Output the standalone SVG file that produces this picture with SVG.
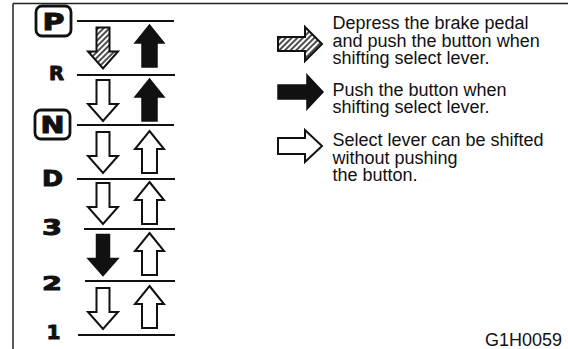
<svg xmlns="http://www.w3.org/2000/svg" xmlns:xlink="http://www.w3.org/1999/xlink" width="568" height="349" viewBox="0 0 568 349">
  <style>
    .frame { stroke: #222; stroke-width: 1.5; fill: none; }
    .sep { stroke: #111; stroke-width: 2; fill: none; }
    .lbl { font-family: "DejaVu Sans", "Liberation Sans", sans-serif; font-weight: bold; fill: #111; stroke: #111; stroke-width: 1; stroke-linejoin: round; text-anchor: middle; }
    .txt { font-family: "Liberation Sans", Arial, sans-serif; font-size: 18px; fill: #111; }
    .white { fill: #fff; stroke: #111; stroke-width: 2; stroke-linejoin: miter; }
    .black { fill: #111; stroke: #111; stroke-width: 1.5; }
    .hatch { fill: url(#hatch); stroke: #111; stroke-width: 2; }
    .box { fill: #fff; stroke: #111; stroke-width: 2.8; }
  </style>
  <defs>
    <pattern id="hatch" patternUnits="userSpaceOnUse" width="4" height="4" patternTransform="rotate(45)">
      <rect width="4" height="4" fill="#fff"/>
      <line x1="1" y1="0" x2="1" y2="4" stroke="#111" stroke-width="1.5"/>
    </pattern>
    <path id="down" d="M-6.5,0 H6.5 V24 H15 L0,41 L-15,24 H-6.5 Z"/>
    <path id="up" d="M0,0 L14.5,18 H7.5 V42 H-7.5 V18 H-14.5 Z"/>
  </defs>

  <g id="frame">
    <line class="frame" x1="13" y1="3.5" x2="568" y2="3.5"/>
    <line class="frame" x1="13" y1="3.5" x2="13" y2="349"/>
  </g>

  <g id="gear-P">
    <rect class="box" x="36" y="6" width="35" height="30" rx="6"/>
    <text class="lbl" x="53.5" y="30" font-size="23" textLength="22" lengthAdjust="spacingAndGlyphs">P</text>
  </g>
  <g id="gear-R">
    <text class="lbl" x="56.5" y="80" font-size="20" textLength="15" lengthAdjust="spacingAndGlyphs">R</text>
  </g>
  <g id="gear-N">
    <rect class="box" x="35" y="110" width="35" height="29" rx="6"/>
    <text class="lbl" x="52.5" y="133" font-size="23" textLength="24" lengthAdjust="spacingAndGlyphs">N</text>
  </g>
  <g id="gear-D">
    <text class="lbl" x="52.5" y="186" font-size="21" textLength="21" lengthAdjust="spacingAndGlyphs">D</text>
  </g>
  <g id="gear-3">
    <text class="lbl" x="52" y="235" font-size="21" textLength="20" lengthAdjust="spacingAndGlyphs">3</text>
  </g>
  <g id="gear-2">
    <text class="lbl" x="52" y="290" font-size="20" textLength="20" lengthAdjust="spacingAndGlyphs">2</text>
  </g>
  <g id="gear-1">
    <text class="lbl" x="53.5" y="339" font-size="20" textLength="14" lengthAdjust="spacingAndGlyphs">1</text>
  </g>

  <g id="separators">
    <line class="sep" x1="77" y1="21" x2="174" y2="21"/>
    <line class="sep" x1="77" y1="75" x2="175" y2="75"/>
    <line class="sep" x1="77" y1="125" x2="174" y2="125"/>
    <line class="sep" x1="77" y1="179" x2="175" y2="179"/>
    <line class="sep" x1="84" y1="229" x2="175" y2="229"/>
    <line class="sep" x1="85" y1="281" x2="175" y2="281"/>
    <line class="sep" x1="78" y1="335" x2="175" y2="335"/>
  </g>

  <g id="connectors">
    <use xlink:href="#down" class="hatch" transform="translate(103,27.5)"/>
    <use xlink:href="#up" class="black" transform="translate(149.5,25)"/>
    <use xlink:href="#down" class="white" transform="translate(103,80)"/>
    <use xlink:href="#up" class="black" transform="translate(149.5,79)"/>
    <use xlink:href="#down" class="white" transform="translate(103,132)"/>
    <use xlink:href="#up" class="white" transform="translate(149.5,131)"/>
    <use xlink:href="#down" class="white" transform="translate(103,183)"/>
    <use xlink:href="#up" class="white" transform="translate(149.5,182)"/>
    <use xlink:href="#down" class="black" transform="translate(103,234.5)"/>
    <use xlink:href="#up" class="white" transform="translate(149.5,233)"/>
    <use xlink:href="#down" class="white" transform="translate(103,288)"/>
    <use xlink:href="#up" class="white" transform="translate(149.5,286)"/>
  </g>

  <g id="legend-hatched">
    <path class="hatch" d="M278,37 H305 V27 L322,44 L305,61 V51 H278 Z"/>
    <text class="txt" x="332.5" y="29">Depress the brake pedal</text>
    <text class="txt" x="332.5" y="46.5">and push the button when</text>
    <text class="txt" x="332.5" y="64">shifting select lever.</text>
  </g>
  <g id="legend-black">
    <path class="black" d="M278,85 H307 V75 L323,92 L307,109 V99 H278 Z"/>
    <text class="txt" x="332.5" y="96">Push the button when</text>
    <text class="txt" x="332.5" y="113">shifting select lever.</text>
  </g>
  <g id="legend-white">
    <path class="white" d="M278,138 H305 V130 L322,146 L305,162 V154 H278 Z"/>
    <text class="txt" x="332.5" y="146">Select lever can be shifted</text>
    <text class="txt" x="332.5" y="164">without pushing</text>
    <text class="txt" x="332.5" y="181">the button.</text>
  </g>

  <g id="figure-code">
    <text class="txt" x="485" y="346">G1H0059</text>
  </g>
</svg>
